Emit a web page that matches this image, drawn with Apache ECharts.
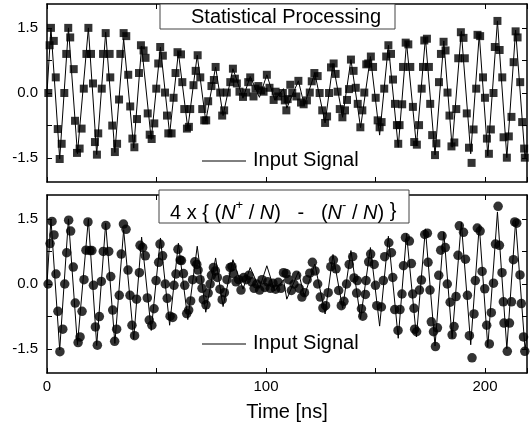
<!DOCTYPE html>
<html lang="en">
<head>
<meta charset="UTF-8">
<title>Statistical Processing</title>
<script src="https://cdn.jsdelivr.net/npm/echarts@6/dist/echarts.min.js"></script>
<style>
  html, body { margin: 0; padding: 0; background: #fff; }
  #chart { width: 531px; height: 426px; }
</style>
</head>
<body>
<div id="chart"></div>
<script>
// input signal (peaks / troughs of the drawn line), [time ns, value]
const inputSignal = [
  [0,0],[1.8,1.5],[5.8,-1.52],[9.8,1.5],[13.9,-1.4],[18.9,1.5],[22.7,-1.42],[26.8,1.4],[31,-1.37],
  [35,1.25],[39.6,-1.27],[43.2,1.08],[47.6,-1.07],[51.8,1.06],[56,-0.95],[60,0.94],[64.3,-0.82],
  [68.6,0.87],[72.5,-0.65],[77,0.6],[80.4,-0.52],[84.9,0.56],[89.5,-0.12],[92.8,0.38],[97,-0.1],
  [100.4,0.42],[104,-0.16],[108,0.1],[109.5,-0.35],[114.8,0.28],[117.5,-0.28],[122.3,0.46],[127,-0.69],
  [130.6,0.68],[135,-0.56],[138.8,0.77],[143.2,-0.8],[147.7,0.84],[151.9,-0.97],[155.9,1.1],[160.4,-1.25],
  [164.2,1.16],[168.7,-1.22],[172.8,1.27],[177.2,-1.43],[181.2,1.2],[185,-1.25],[189.2,1.42],[193.5,-1.4],
  [197.4,1.35],[201.3,-1.45],[205.7,1.66],[210,-1.49],[214,1.45],[218.3,-1.5],[219.2,-1.2]
];

// top panel: statistical processing (squares)
const statProc = [
  [0.6,0.0],[1.2,1.1],[1.8,1.5],[3.1,1.2],[4.0,0.36],[4.9,-0.83],[5.8,-1.52],[6.7,-1.17],[7.9,0.0],
  [8.8,0.9],[9.7,1.5],[10.6,1.28],[12.2,0.55],[12.8,-0.64],[13.7,-1.38],[14.9,-1.28],[15.8,-0.82],
  [16.8,0.1],[18.0,0.9],[18.9,1.5],[20.1,0.9],[21.0,0.22],[21.9,-1.13],[22.8,-1.42],[23.4,-0.93],
  [25.0,0.1],[25.6,0.9],[26.8,1.38],[28.6,0.9],[28.9,0.36],[29.8,-0.75],[31.0,-1.36],[32.0,-1.17],
  [32.9,-0.15],[33.5,0.9],[35.0,1.38],[36.2,1.31],[37.1,0.42],[38.0,-0.31],[39.0,-1.05],[39.9,-1.25],
  [41.1,-0.6],[42.0,0.46],[42.9,1.1],[44.1,0.98],[45.0,0.81],[46.0,-0.47],[46.9,-0.96],[47.8,-1.06],
  [49.0,-0.7],[49.9,0.1],[50.8,0.68],[51.7,1.06],[52.9,0.86],[53.9,0.01],[54.8,-0.52],[55.4,-0.93],
  [56.9,-0.93],[57.8,-0.11],[58.7,0.46],[59.6,0.94],[61.2,0.89],[61.8,0.25],[62.7,-0.37],[63.9,-0.82],
  [64.8,-0.78],[65.4,-0.37],[66.9,0.18],[67.9,0.51],[68.8,0.87],[70.0,0.36],[70.9,-0.37],[71.8,-0.63],
  [72.7,-0.63],[73.6,-0.19],[75.1,0.16],[76.2,0.3],[77.0,0.6],[79.1,0.01],[80.0,-0.52],[80.9,-0.4],
  [82.1,0.01],[83.7,0.25],[84.9,0.56],[85.8,0.33],[86.7,0.22],[87.9,0.03],[89.5,-0.09],[91.0,0.01],
  [91.9,0.25],[92.8,0.36],[94.3,-0.08],[95.2,0.1],[96.5,0.16],[97.7,0.06],[98.9,0.03],[100.4,0.42],
  [101.6,0.12],[103.5,-0.16],[104.4,0.03],[105.6,-0.08],[107.7,0.0],[108.6,-0.17],[109.3,-0.4],
  [109.9,-0.14],[111.1,0.19],[112.0,0.0],[113.9,-0.08],[114.8,0.28],[116.0,-0.22],[117.2,-0.26],
  [118.7,-0.17],[120.0,0.01],[120.9,0.27],[122.1,0.46],[123.6,0.39],[124.5,0.0],[125.7,-0.4],[127.0,-0.69],
  [127.9,-0.54],[128.8,0.0],[129.7,0.59],[130.9,0.68],[131.8,0.44],[132.7,0.03],[133.7,-0.37],[134.9,-0.56],
  [136.1,-0.4],[137.0,-0.16],[137.9,0.09],[138.8,0.77],[140.0,0.51],[141.0,0.12],[141.9,-0.25],[143.1,-0.79],
  [144.0,-0.4],[144.9,0.01],[145.8,0.66],[146.7,0.68],[147.9,0.84],[148.9,0.6],[150.1,-0.11],[151.0,-0.63],
  [151.9,-0.79],[152.8,-0.67],[154.0,0.1],[154.9,0.84],[155.9,1.1],[157.1,0.9],[158.0,0.31],[158.9,-0.25],
  [159.8,-0.74],[160.4,-1.17],[161.0,-0.74],[162.2,-0.26],[162.6,0.6],[163.8,1.16],[165.0,1.12],[165.9,0.6],
  [167.1,-0.32],[167.7,-1.13],[168.9,-1.19],[169.9,-0.74],[171.1,0.1],[171.7,0.6],[172.3,1.21],[173.5,1.25],
  [174.4,0.6],[175.0,-0.25],[175.9,-0.97],[177.2,-1.43],[177.8,-1.16],[179.0,0.25],[179.9,0.9],[181.1,1.18],
  [182.0,0.98],[182.9,0.01],[183.8,-0.52],[184.7,-1.23],[186.0,-1.14],[186.9,-0.37],[187.8,0.8],[189.0,1.4],
  [190.2,1.27],[190.8,0.8],[191.7,-0.47],[192.7,-1.26],[193.9,-1.61],[194.8,-0.84],[196.0,0.1],[196.6,1.34],
  [197.8,1.31],[199.1,0.36],[200.0,-0.11],[200.9,-1.05],[201.8,-1.4],[202.7,-0.84],[203.9,0.0],[204.5,1.06],
  [205.7,1.66],[206.7,0.99],[207.9,0.36],[208.5,-1.02],[210.0,-1.49],[210.9,-1.0],[212.1,-0.55],[213.1,0.71],
  [214.0,1.42],[214.9,1.28],[216.1,0.25],[217.0,-0.67],[217.9,-1.28],[218.2,-1.49]
];

// bottom panel: 4 x {(N+/N) - (N-/N)} (circles)
const countRatio = [
  [0.5,0],[1.4,0.93],[2.3,1.44],[3.2,1.13],[4.1,0.23],[5.0,-0.63],[5.9,-1.56],[7.2,-1.04],[8.1,0],
  [9.0,0.72],[9.9,1.47],[10.8,1.22],[12.0,0.39],[12.9,-0.44],[14.2,-1.35],[15.1,-1.22],[16.0,-0.63],
  [16.9,0.1],[17.8,0.78],[18.7,1.43],[19.6,0.77],[20.5,0.77],[21.2,-0.03],[22.1,-0.99],[23.0,-1.41],
  [23.9,-0.75],[24.8,0.06],[25.7,0.75],[26.9,1.35],[28.2,0.75],[29.1,0.17],[30.0,-0.6],[30.9,-1.32],
  [31.8,-1.04],[33.0,-0.26],[33.9,0.69],[34.9,1.38],[36.1,1.26],[37.0,0.32],[37.9,-0.26],[38.8,-0.95],
  [40.0,-1.19],[40.9,-0.35],[42.2,0.26],[42.5,0.89],[43.7,0.84],[44.9,0.65],[45.8,-0.32],[46.7,-0.83],
  [47.9,-0.95],[48.9,-0.57],[49.8,0.08],[51.0,0.5],[51.6,0.92],[52.8,0.65],[54.0,0],[54.9,-0.33],
  [56.2,-0.74],[57.4,-0.77],[58.0,-0.03],[58.9,0.23],[59.8,0.8],[60.8,0.55],[61.4,0.54],[62.3,0.24],
  [62.9,-0.03],[63.8,-0.68],[64.7,-0.6],[65.6,-0.39],[66.5,0.1],[67.5,0.51],[68.4,0.45],[69.0,0.32],
  [69.9,0.1],[70.8,-0.1],[71.4,-0.36],[72.6,-0.48],[73.6,-0.21],[74.5,0.0],[75.1,0.2],[76.0,0.38],
  [76.9,0.3],[77.8,0.15],[79.0,-0.12],[80.0,-0.36],[81.0,-0.2],[82.2,0.1],[83.6,0.38],[84.5,0.4],
  [85.1,0.24],[86.3,0.05],[87.5,0.1],[88.6,-0.14],[89.8,0.15],[91.0,0.1],[92.2,0.2],[93.5,0.05],
  [94.6,-0.1],[95.8,0.0],[97.1,-0.14],[98.2,0.1],[99.5,-0.08],[100.8,0.05],[102.0,-0.1],[103.2,0.02],
  [104.4,-0.12],[105.6,0.04],[106.8,-0.1],[108.0,0.26],[109.2,0.24],[110.4,0.1],[111.6,-0.15],[112.8,0.0],
  [114.0,0.2],[115.2,-0.1],[116.4,-0.3],[117.6,-0.2],[118.8,0.1],[120.0,0.25],[121.2,0.5],[122.4,0.3],
  [123.6,0.0],[124.8,-0.3],[126.0,-0.55],[127.2,-0.5],[128.4,-0.2],[129.6,0.4],[130.8,0.55],[132.0,0.35],
  [133.2,-0.15],[134.4,-0.5],[135.6,-0.4],[136.8,0.0],[138.0,0.45],[139.6,0.63],[140.2,0.14],[141.4,-0.21],
  [141.7,0.08],[143.6,-0.57],[144.2,-0.74],[145.4,-0.24],[145.7,0.08],[146.9,0.51],[147.8,0.69],[149.4,0.45],
  [150.0,-0.03],[150.6,-0.5],[152.7,-0.53],[153.6,0.08],[154.2,0.63],[156.1,0.95],[157.3,0.72],[157.9,0.15],
  [158.8,-0.59],[160.3,-1.07],[161.2,-0.59],[162.1,-0.23],[162.8,0.42],[163.7,1.07],[165.5,0.99],[166.4,0.47],
  [167.0,-0.23],[167.6,-0.56],[167.9,-1.04],[168.8,-1.1],[170.1,-0.14],[171.0,0.09],[172.5,1.14],[173.7,1.17],
  [174.0,0.5],[174.9,-0.14],[175.5,-0.87],[176.5,-1.1],[177.4,-1.44],[178.3,-1.01],[178.9,0.2],[179.8,0.78],
  [180.4,1.11],[181.9,0.84],[182.8,0],[184.1,-0.42],[185.0,-1.17],[185.9,-0.98],[186.8,-0.29],[187.7,0.66],
  [188.3,1.34],[190.2,1.19],[191.1,0.57],[192.0,-0.26],[192.9,-1.19],[194.1,-1.7],[195.0,-0.69],[195.6,0.08],
  [196.5,1.29],[197.8,1.22],[198.7,0.29],[199.9,-0.11],[200.8,-0.95],[202.0,-1.38],[202.9,-0.66],[203.9,0.02],
  [204.8,0.92],[206.0,1.79],[206.6,0.89],[207.8,0.26],[208.4,-0.41],[208.7,-0.9],[210.2,-1.55],[211.2,-0.9],
  [212.1,-0.41],[213.0,0.56],[213.6,1.43],[214.5,1.4],[216.0,0.21],[216.6,-0.45],[217.6,-1.22],[218.2,-1.55]
];

const xLabelValues = [0, 100, 200];
const yLabelValues = [-1.5, 0, 1.5];
const yTickValues = [-1.5, -0.75, 0, 0.75, 1.5];

const FONT = '"Liberation Sans", Arial, sans-serif';
const chart = echarts.init(document.getElementById('chart'), null, { renderer: 'canvas' });

function xAx(grid, pos, labels) {
  return {
    gridIndex: grid, type: 'value', position: pos, min: 0, max: 219.2, interval: 100,
    axisLine: { show: true, onZero: false, lineStyle: { color: '#000', width: 1.5 } },
    axisTick: { show: true, inside: true, length: 5, lineStyle: { color: '#000', width: 1 } },
    minorTick: { show: true, splitNumber: 2, length: 5, lineStyle: { color: '#000', width: 1 } },
    axisLabel: {
      show: labels, margin: 6, color: '#000', fontSize: 15, fontFamily: FONT,
      customValues: xLabelValues, formatter: v => String(v)
    },
    splitLine: { show: false }
  };
}
function yAx(grid, pos, labels) {
  return {
    gridIndex: grid, type: 'value', position: pos, min: -2.05, max: 2.05,
    axisLine: { show: true, onZero: false, lineStyle: { color: '#000', width: 1.5 } },
    axisTick: { show: true, inside: true, length: 5, customValues: yTickValues, lineStyle: { color: '#000', width: 1 } },
    axisLabel: {
      show: labels, margin: 9, color: '#000', fontSize: 15, fontFamily: FONT,
      customValues: yLabelValues, formatter: v => v.toFixed(1)
    },
    splitLine: { show: false }
  };
}

const option = {
  animation: false,
  backgroundColor: '#fff',
  grid: [
    { left: 47, right: 4, top: 4, height: 178 },
    { left: 47, right: 4, top: 195, height: 178 }
  ],
  xAxis: [xAx(0, 'bottom', false), xAx(0, 'top', false), xAx(1, 'bottom', true), xAx(1, 'top', false)],
  yAxis: [yAx(0, 'left', true), yAx(0, 'right', false), yAx(1, 'left', true), yAx(1, 'right', false)],
  series: [
    { type: 'line', data: inputSignal, xAxisIndex: 0, yAxisIndex: 0, symbol: 'none',
      lineStyle: { color: '#000', width: 1 }, z: 2 },
    { type: 'scatter', data: statProc, xAxisIndex: 0, yAxisIndex: 0, symbol: 'rect', symbolSize: 8,
      itemStyle: { color: '#000' }, z: 3 },
    { type: 'line', data: inputSignal, xAxisIndex: 2, yAxisIndex: 2, symbol: 'none',
      lineStyle: { color: '#000', width: 1 }, z: 2 },
    { type: 'scatter', data: countRatio, xAxisIndex: 2, yAxisIndex: 2, symbol: 'circle', symbolSize: 9.5,
      itemStyle: { color: '#000' }, z: 3 }
  ],
  graphic: [
    // top legend box
    { type: 'rect', shape: { x: 160, y: 4, width: 235, height: 25 }, style: { fill: '#fff', stroke: '#444', lineWidth: 1 }, z: 10 },
    { type: 'text', x: 191, y: 17, style: { text: 'Statistical Processing', font: '20px ' + FONT, fill: '#000', verticalAlign: 'middle' }, z: 11 },
    // bottom legend box
    { type: 'rect', shape: { x: 159, y: 190, width: 250, height: 33 }, style: { fill: '#fff', stroke: '#444', lineWidth: 1 }, z: 10 },
    { type: 'text', x: 170, y: 211, z: 11, style: {
        text: '{n|4 x { (}{i|N}{s|+}{n| / }{i|N}{n|)   -   (}{i|N}{s|-}{n| / }{i|N}{n|) \u007d}',
        font: '20px ' + FONT, fill: '#000', verticalAlign: 'middle',
        rich: {
          n: { fontSize: 20, fontFamily: FONT, lineHeight: 24, verticalAlign: 'bottom' },
          i: { fontSize: 20, fontFamily: FONT, fontStyle: 'italic', lineHeight: 24, verticalAlign: 'bottom' },
          s: { fontSize: 13, fontFamily: FONT, lineHeight: 13, verticalAlign: 'top' }
        }
    } },
    // "Input Signal" legends
    { type: 'line', shape: { x1: 202, y1: 161, x2: 246, y2: 161 }, style: { stroke: '#000', lineWidth: 1 }, z: 10 },
    { type: 'text', x: 253, y: 160, style: { text: 'Input Signal', font: '20px ' + FONT, fill: '#000', verticalAlign: 'middle' }, z: 11 },
    { type: 'line', shape: { x1: 202, y1: 344, x2: 246, y2: 344 }, style: { stroke: '#000', lineWidth: 1 }, z: 10 },
    { type: 'text', x: 253, y: 343, style: { text: 'Input Signal', font: '20px ' + FONT, fill: '#000', verticalAlign: 'middle' }, z: 11 },
    // x axis title
    { type: 'text', x: 287, y: 412, style: { text: 'Time [ns]', font: '20px ' + FONT, fill: '#000', align: 'center', verticalAlign: 'middle' }, z: 11 }
  ]
};
chart.setOption(option);
</script>
</body>
</html>
